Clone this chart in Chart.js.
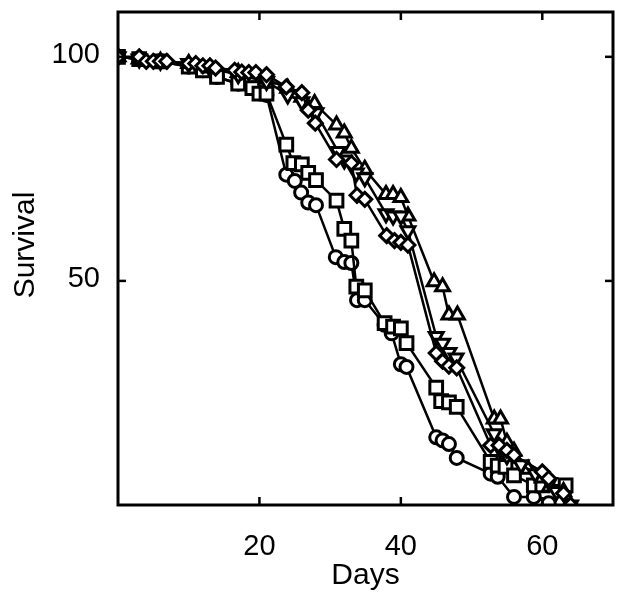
<!DOCTYPE html>
<html>
<head>
<meta charset="utf-8">
<script src="https://cdn.jsdelivr.net/npm/chart.js@4"></script>
<style>
html,body{margin:0;padding:0;background:#fff;}
#wrap{width:625px;height:594px;}
</style>
</head>
<body>
<div id="wrap"><canvas id="c" width="625" height="594"></canvas></div>
<script>
// Data (day, survival %)
const xTicks = [20, 40, 60];
const yTicks = [50, 100];
const xTitle = 'Days';
const yTitle = 'Survival';

const circleDays = [0,3,6,10,12,14,17,19,20,21,23.8,25,25.9,26.9,28,30.8,32,33,33.8,34.9,37.7,38.7,40,40.8,45,45.9,46.8,47.9,52.7,53.7,56,58.8,60.9];
const circleSurv = [100,99.5,99,97.8,97,95.5,94,93,92,91.5,73.7,72.3,69.7,67.5,66.9,55.3,54.2,54,45.7,45.7,40.2,38.3,31.4,30.8,15.1,14.4,13.6,10.5,7,6.3,1.8,1.8,0.4];

const squareDays = [0,3,6,10,12,14,17,19,20,21,23.8,24.8,26,26.9,28,30.9,32,33,33.7,34.9,37.7,38.9,40,40.8,45,45.7,46.8,47.9,52.7,53.7,54.8,56,58.8,60,63.3];
const squareSurv = [100,99.5,99,97.8,97,95.5,94,93,91.8,91.8,80.4,76.3,76,74.1,72.5,67.9,61.6,59,48.7,47.9,40.6,39.8,39.4,36.1,26.2,23.2,22.9,21.9,9.6,8.8,8.5,6.6,4.4,4.4,4.4];

const triUpDays = [0,3,6,10,13,17,21,24,26,27.8,30.9,32,33,34.9,37.9,38.9,40,41,44.7,45.9,46.8,48,53.2,54.1,55,56,58,60,61,63,64];
const triUpSurv = [100,99.5,99,98.5,97.5,96.5,95,93,91,89.6,84.8,83,79.6,74.9,69.3,69.3,68.6,64.5,49.8,48.7,42.4,42.4,19.2,19.2,14,12,8,6,4,3,0];

const triDownDays = [0,3,6,10,13,17,21,24,26,28,31.1,32,33.7,34.9,37.9,38.9,40,41,45,45.9,46.8,47.8,53.2,54.2,55,57,59,61,62,64];
const triDownSurv = [100,99.5,99,98.5,97.5,96,94.5,91.5,90,87.5,78.9,77,74.1,73,65,64.5,64.5,61.2,37.6,36.1,34,32.8,15.9,12,11,9,7,5,3,0];

const diamondDays = [0,3,4,5,6,6.9,10,11,12,13,13.8,16.5,17.5,18.5,19.5,21,23.8,26,26.9,27.9,30.9,33,33.8,34.9,38,39.1,40,41,45,45.9,46.8,47.9,52.7,53.9,55,56,60,60.9,63,64];
const diamondSurv = [100,100,99,99,99,99,98.5,98.5,98,98,97.5,97,96.6,96.5,96.5,96,93.3,92,88.1,85.2,77.1,76.3,69.1,68.2,60.1,59,58.6,58,33.9,32.1,31,30.6,13.3,13.3,12.2,11.1,7.4,5.9,2.6,0];

function pts(xs, ys){ return xs.map((x,i)=>({x:x, y:ys[i]})); }

function ds(label, xs, ys, style, radius, rot){
  return {
    label: label,
    data: pts(xs, ys),
    showLine: true,
    borderColor: '#000',
    borderWidth: 2.5,
    pointStyle: style,
    pointRotation: rot || 0,
    pointRadius: radius,
    pointBorderWidth: 3,
    pointBackgroundColor: '#fff',
    pointBorderColor: '#000',
    tension: 0,
    fill: false
  };
}

const FAMILY = '"Liberation Sans", Arial, Helvetica, sans-serif';

const boxPlugin = {
  id: 'boxTicks',
  afterDraw(chart){
    const ctx = chart.ctx;
    const a = chart.chartArea;
    const xs = chart.scales.x, ys = chart.scales.y;
    ctx.save();
    ctx.strokeStyle = '#000';
    ctx.lineWidth = 3;
    ctx.strokeRect(a.left, a.top, a.right - a.left, a.bottom - a.top);
    ctx.lineWidth = 2.5;
    const L = 8;
    xTicks.forEach(v => {
      const px = xs.getPixelForValue(v);
      ctx.beginPath(); ctx.moveTo(px, a.bottom); ctx.lineTo(px, a.bottom - L); ctx.stroke();
      ctx.beginPath(); ctx.moveTo(px, a.top); ctx.lineTo(px, a.top + L); ctx.stroke();
    });
    yTicks.forEach(v => {
      const py = ys.getPixelForValue(v);
      ctx.beginPath(); ctx.moveTo(a.left, py); ctx.lineTo(a.left + L, py); ctx.stroke();
      ctx.beginPath(); ctx.moveTo(a.right, py); ctx.lineTo(a.right - L, py); ctx.stroke();
    });
    // axis titles
    ctx.fillStyle = '#000';
    ctx.font = '30px ' + FAMILY;
    ctx.textAlign = 'center';
    ctx.textBaseline = 'alphabetic';
    ctx.fillText(xTitle, (a.left + a.right) / 2, 584);
    ctx.translate(34, 245);
    ctx.rotate(-Math.PI / 2);
    ctx.fillText(yTitle, 0, 0);
    ctx.restore();
  }
};

const tickFont = {family: FAMILY, size: 29};

new Chart(document.getElementById('c'), {
  type: 'scatter',
  data: {
    datasets: [
      ds('diamond', diamondDays, diamondSurv, 'rectRot', 7),
      ds('triDown', triDownDays, triDownSurv, 'triangle', 8, 180),
      ds('triUp', triUpDays, triUpSurv, 'triangle', 8),
      ds('square', squareDays, squareSurv, 'rect', 9),
      ds('circle', circleDays, circleSurv, 'circle', 6.5)
    ]
  },
  options: {
    responsive: false,
    animation: false,
    devicePixelRatio: 1,
    layout: {padding: {top: 8, right: 10, left: 0, bottom: 0}},
    plugins: {legend: {display: false}, tooltip: {enabled: false}},
    scales: {
      x: {
        type: 'linear', min: 0, max: 70,
        border: {display: false},
        grid: {display: false, drawTicks: false},
        afterBuildTicks: s => { s.ticks = xTicks.map(v => ({value: v})); },
        afterFit: s => { s.height = 89; s.paddingLeft = 0; s.paddingRight = 0; },
        ticks: {color: '#000', font: tickFont, padding: 25, maxRotation: 0}
      },
      y: {
        type: 'linear', min: 0, max: 110,
        border: {display: false},
        grid: {display: false, drawTicks: false},
        afterBuildTicks: s => { s.ticks = yTicks.map(v => ({value: v})); },
        afterFit: s => { s.width = 118; s.paddingTop = 0; s.paddingBottom = 0; },
        ticks: {color: '#000', font: tickFont, padding: 18, labelOffset: -2}
      }
    }
  },
  plugins: [boxPlugin]
});
</script>
</body>
</html>
